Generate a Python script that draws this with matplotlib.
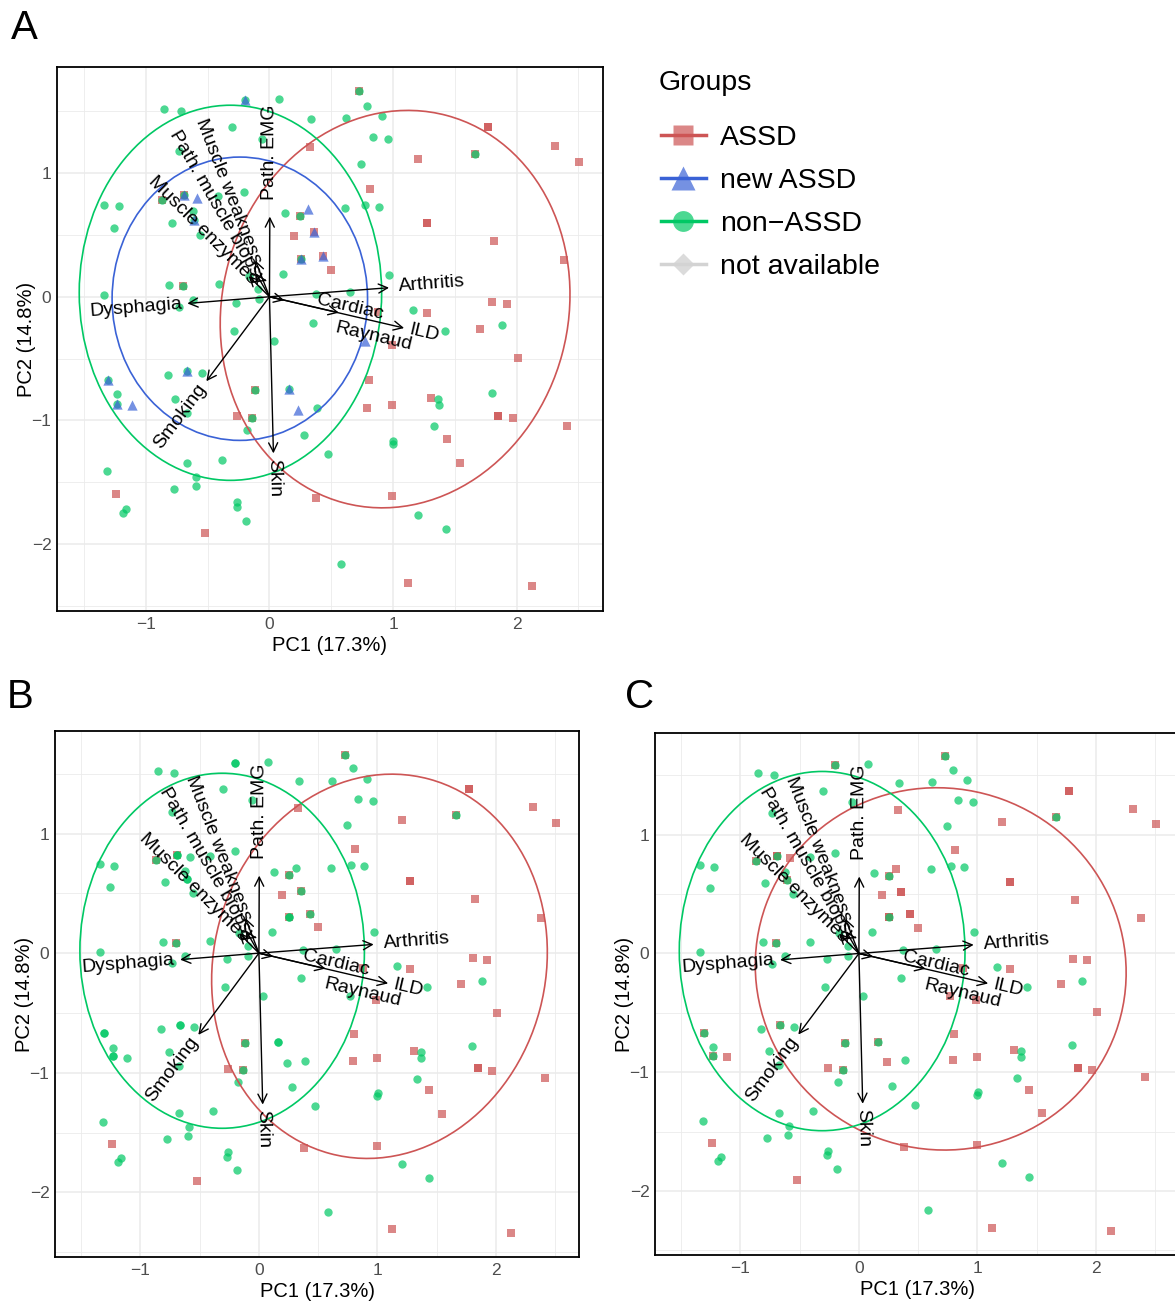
import numpy as np
import matplotlib
matplotlib.use("Agg")
import matplotlib.pyplot as plt
from matplotlib.patches import Ellipse
from matplotlib.lines import Line2D
from matplotlib.colors import to_rgba

plt.rcParams['font.family'] = ['Liberation Sans', 'DejaVu Sans']

# PCA scores (PC1, PC2) and group as coded in panel A
pc1 = [-0.20, -0.20, 0.08, -0.85, -0.72, 0.34, -0.305, -0.06, 0.327, -1.34,
       -1.22, -1.26, -0.69, -0.69, -0.69, -0.584, -0.62, -0.61, -0.61, -0.79,
       -0.205, 0.125, 0.31, 0.25, 0.25, 0.357, 0.357, 0.195, 0.255, 0.255,
       0.255, 0.435, 0.435, 0.50, -0.165, -0.81, -0.70, -0.70, -0.41, -0.09,
       -1.34, -0.62, -0.735, -0.27, -0.088, 0.375, 0.354, -0.29, 0.035, 0.11,
       -0.73, -0.866, -0.866, -0.56, -0.415,
       0.722, 0.722, 0.79, 0.616, 0.911, 0.84, 0.963, 1.77, 1.77, 2.314,
       2.506, 1.203, 1.665, 1.665, 0.741, 0.81, 0.611, 0.776, 0.887, 1.276,
       1.276, 1.82, 2.381, 0.968, 0.652, 1.162, 1.276, 0.879, 1.419, 1.706,
       1.879, 1.803, 1.925, 0.77, 0.99,
       -1.308, -1.308, -0.665, -0.665, -0.823, -0.546, -1.233, -1.233, -1.233, -1.11,
       -0.762, -0.67, -0.119, -0.119, 0.162, 0.162, -0.26, -0.138, -0.138, -0.18,
       0.233, 0.387, 0.282, 0.476, -0.387, -0.67, -0.592, -0.595, -0.773, -1.315,
       -1.24, -1.165, -1.186, -0.26, -0.265, -0.189, -0.524, 0.38,
       2.009, 1.798, 1.852, 1.852, 1.97, 2.41, 0.806, 0.79, 0.992, 1.311,
       1.365, 1.37, 1.33, 1.003, 1.0, 1.438, 1.544, 0.992, 1.203, 1.433,
       0.58, 1.122, 2.127]
pc2 = [1.59, 1.59, 1.60, 1.52, 1.505, 1.435, 1.37, 1.277, 1.21, 0.745,
       0.73, 0.555, 0.82, 0.82, 0.82, 0.80, 0.69, 0.62, 0.62, 0.597,
       0.85, 0.675, 0.71, 0.655, 0.655, 0.52, 0.52, 0.49, 0.305, 0.305,
       0.305, 0.33, 0.33, 0.215, 0.17, 0.095, 0.088, 0.088, 0.10, 0.062,
       0.012, -0.025, -0.085, -0.05, -0.02, 0.025, -0.21, -0.28, -0.36, 0.18,
       1.18, 0.778, 0.778, 0.50, 0.815,
       1.66, 1.66, 1.545, 1.443, 1.457, 1.29, 1.274, 1.37, 1.37, 1.22,
       1.089, 1.11, 1.153, 1.153, 1.07, 0.873, 0.715, 0.74, 0.725, 0.60,
       0.60, 0.45, 0.295, 0.178, 0.035, -0.11, -0.131, -0.126, -0.28, -0.261,
       -0.231, -0.043, -0.059, -0.36, -0.39,
       -0.669, -0.669, -0.602, -0.602, -0.634, -0.62, -0.79, -0.863, -0.863, -0.876,
       -0.825, -0.94, -0.755, -0.755, -0.742, -0.742, -0.965, -0.978, -0.978, -1.08,
       -0.917, -0.898, -1.118, -1.274, -1.323, -1.34, -1.455, -1.53, -1.556, -1.41,
       -1.597, -1.713, -1.745, -1.66, -1.70, -1.812, -1.906, -1.63,
       -0.497, -0.774, -0.962, -0.962, -0.981, -1.043, -0.675, -0.898, -0.876, -0.815,
       -0.823, -0.876, -1.048, -1.166, -1.193, -1.148, -1.341, -1.61, -1.764, -1.88,
       -2.16, -2.31, -2.34]
group = ["new", "non", "non", "non", "non", "non", "non", "non", "ASSD", "non",
         "non", "non", "new", "ASSD", "non", "new", "non", "new", "non", "non",
         "non", "non", "new", "ASSD", "non", "new", "ASSD", "ASSD", "new", "ASSD",
         "non", "new", "ASSD", "ASSD", "non", "non", "ASSD", "non", "non", "non",
         "non", "non", "non", "non", "non", "non", "non", "non", "non", "non",
         "non", "ASSD", "non", "non", "non",
         "ASSD", "non", "non", "non", "non", "non", "non", "ASSD", "ASSD", "ASSD",
         "ASSD", "ASSD", "ASSD", "non", "non", "ASSD", "non", "non", "non", "ASSD",
         "ASSD", "ASSD", "ASSD", "non", "non", "non", "ASSD", "ASSD", "non", "ASSD",
         "non", "ASSD", "ASSD", "new", "ASSD",
         "new", "non", "new", "non", "non", "non", "non", "new", "non", "new",
         "non", "non", "ASSD", "non", "new", "non", "ASSD", "ASSD", "non", "non",
         "new", "non", "non", "non", "non", "non", "non", "non", "non", "non",
         "ASSD", "non", "non", "non", "non", "non", "ASSD", "ASSD",
         "ASSD", "non", "ASSD", "ASSD", "ASSD", "ASSD", "ASSD", "ASSD", "ASSD", "ASSD",
         "non", "non", "non", "non", "non", "ASSD", "ASSD", "ASSD", "non", "non",
         "non", "ASSD", "ASSD"]

# variable loadings (arrow tips)
var_names = ["Path. EMG", "Muscle weakness", "Path. muscle biopsy", "Muscle enzymes",
             "Dysphagia", "Arthritis", "Cardiac", "Raynaud", "ILD", "Smoking", "Skin"]
load_x = [0.003, -0.114, -0.11, -0.168, -0.665, 0.968, 0.562, 0.12, 1.09, -0.511, 0.032]
load_y = [0.648, 0.293, 0.19, 0.167, -0.054, 0.073, -0.129, -0.028, -0.253, -0.683, -1.266]

# normal ellipses per panel: centre, half widths, angle
ellA_grp = ["ASSD", "new", "non"]
ellA_cx = [1.017, -0.24, -0.316]
ellA_cy = [-0.10, -0.016, 0.032]
ellA_rx = [1.40, 1.034, 1.224]
ellA_ry = [1.62, 1.145, 1.516]
ellA_ang = [-15, 0, 0]

ellB_grp = ["ASSD", "non"]
ellB_cx = [1.017, -0.31]
ellB_cy = [-0.11, 0.02]
ellB_rx = [1.40, 1.20]
ellB_ry = [1.62, 1.484]
ellB_ang = [-15, 0]

ellC_grp = ["ASSD", "non"]
ellC_cx = [0.69, -0.31]
ellC_cy = [-0.13, 0.02]
ellC_rx = [1.57, 1.205]
ellC_ry = [1.52, 1.513]
ellC_ang = [-20, 0]

colors = {"ASSD": "#CD5555", "new": "#3A62D6", "non": "#00C864"}
markers = {"ASSD": "s", "new": "^", "non": "o"}
msize = {"ASSD": 34, "new": 55, "non": 36}

# label tweaks (points)
label_gap = {"Path. EMG": 12, "Arthritis": 7, "Muscle weakness": -2,
             "Path. muscle biopsy": -8, "Muscle enzymes": -6}
label_nudge = {"Cardiac": (-20, 10), "Raynaud": (33, -19)}

pc1 = np.array(pc1)
pc2 = np.array(pc2)
group = np.array(group)


def draw_panel(ax, grp, eg, ecx, ecy, erx, ery, eang):
    for g in ["ASSD", "non", "new"]:
        m = grp == g
        if m.any():
            ax.scatter(pc1[m], pc2[m], s=msize[g], marker=markers[g],
                       color=colors[g], alpha=0.7, linewidths=0, zorder=2)
    for g, cx, cy, rx, ry, a in zip(eg, ecx, ecy, erx, ery, eang):
        ax.add_patch(Ellipse((cx, cy), 2 * rx, 2 * ry, angle=a, fill=False,
                             edgecolor=colors[g], lw=1.2, zorder=3))
    for name, lx, ly in zip(var_names, load_x, load_y):
        ax.annotate("", xy=(lx, ly), xytext=(0, 0),
                    arrowprops=dict(arrowstyle="->,head_length=0.5,head_width=0.25",
                                    color="black", lw=1.0, shrinkA=0, shrinkB=0,
                                    mutation_scale=13), zorder=4)
        ang = np.degrees(np.arctan(ly / lx))
        u = np.array([lx, ly]) / np.hypot(lx, ly)
        gap = label_gap.get(name, 4)
        dx, dy = label_nudge.get(name, (0, 0))
        ax.annotate(name, xy=(lx, ly), xytext=(u[0] * gap + dx, u[1] * gap + dy),
                    textcoords="offset points", rotation=ang, rotation_mode="anchor",
                    ha="left" if lx > 0 else "right", va="center", fontsize=14,
                    zorder=5)

    ax.set_xlim(-1.72, 2.70)
    ax.set_ylim(-2.54, 1.857)
    ax.set_xticks([-1, 0, 1, 2])
    ax.set_yticks([-2, -1, 0, 1])
    ax.set_xticks([-1.5, -0.5, 0.5, 1.5, 2.5], minor=True)
    ax.set_yticks([-2.5, -1.5, -0.5, 0.5, 1.5], minor=True)
    ax.grid(which="major", color="#EBEBEB", lw=1.1, zorder=0)
    ax.grid(which="minor", color="#EBEBEB", lw=0.6, zorder=0)
    ax.set_axisbelow(True)
    ax.tick_params(which="both", length=0, labelsize=12.5, labelcolor="#4D4D4D", pad=4)
    for s in ax.spines.values():
        s.set_linewidth(1.3)
        s.set_color("black")
    ax.set_xlabel("PC1 (17.3%)", fontsize=14.5, labelpad=3)
    ax.set_ylabel("PC2 (14.8%)", fontsize=14.5, labelpad=-3)


fig = plt.figure(figsize=(11.75, 13.03), dpi=100)
W, H = 1175.0, 1303.0

axA = fig.add_axes([57 / W, 1 - 611 / H, 546 / W, 544 / H])
draw_panel(axA, group, ellA_grp, ellA_cx, ellA_cy, ellA_rx, ellA_ry, ellA_ang)

grpB = np.where(group == "new", "non", group)
axB = fig.add_axes([55 / W, 1 - 1257 / H, 524 / W, 526 / H])
draw_panel(axB, grpB, ellB_grp, ellB_cx, ellB_cy, ellB_rx, ellB_ry, ellB_ang)

grpC = np.where(group == "new", "ASSD", group)
axC = fig.add_axes([655 / W, 1 - 1255 / H, 524 / W, 522 / H])
draw_panel(axC, grpC, ellC_grp, ellC_cx, ellC_cy, ellC_rx, ellC_ry, ellC_ang)

fig.text(24 / W, 1 - 28 / H, "A", fontsize=29, ha="center", va="center")
fig.text(20 / W, 1 - 697 / H, "B", fontsize=29, ha="center", va="center")
fig.text(640 / W, 1 - 697 / H, "C", fontsize=29, ha="center", va="center")

handles = [
    Line2D([0], [0], color=colors["ASSD"], lw=2.5, marker="s", markersize=14,
           markerfacecolor=to_rgba(colors["ASSD"], 0.7), markeredgecolor="none"),
    Line2D([0], [0], color=colors["new"], lw=2.5, marker="^", markersize=17,
           markerfacecolor=to_rgba(colors["new"], 0.7), markeredgecolor="none"),
    Line2D([0], [0], color=colors["non"], lw=2.5, marker="o", markersize=15,
           markerfacecolor=to_rgba(colors["non"], 0.7), markeredgecolor="none"),
    Line2D([0], [0], color="#D3D3D3", lw=2.5, marker="D", markersize=11,
           markerfacecolor=to_rgba("#D3D3D3", 0.8), markeredgecolor="none"),
]
fig.text(659 / W, 1 - 83 / H, "Groups", fontsize=20.5, ha="left", va="center")
fig.legend(handles, ["ASSD", "new ASSD", "non\u2212ASSD", "not available"],
           loc="upper left", bbox_to_anchor=(635 / W, 1 - 99 / H),
           frameon=False, fontsize=20.5, handlelength=1.6,
           handletextpad=0.5, labelspacing=0.6)

fig.savefig("out.png", dpi=100)
